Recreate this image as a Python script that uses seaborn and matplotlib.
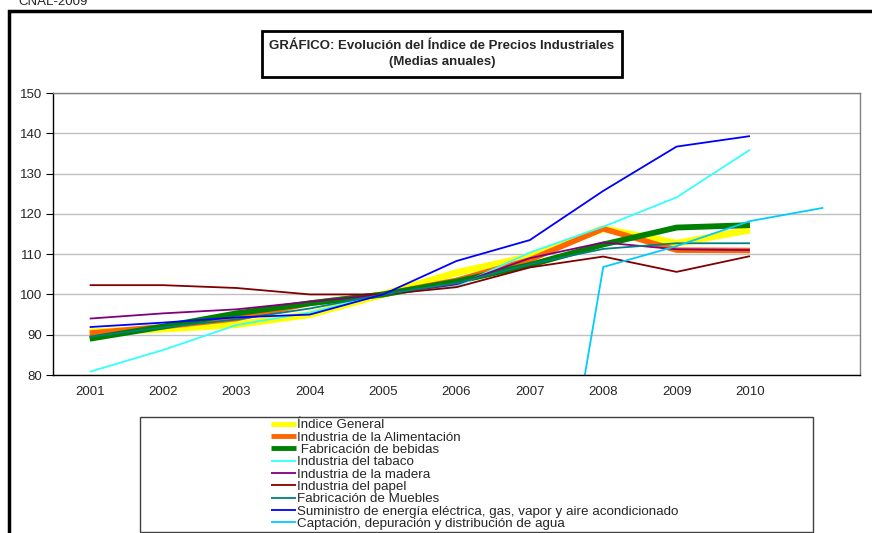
import numpy as np
import pandas as pd
import matplotlib
matplotlib.use("Agg")
import matplotlib.pyplot as plt
from matplotlib.patches import Rectangle
import seaborn as sns

# categories (the last slot has no label in the original)
years = ["2001", "2002", "2003", "2004", "2005", "2006", "2007", "2008", "2009", "2010", ""]

indice_general = [90.7, 91.4, 92.5, 95.0, 100.0, 105.4, 109.4, 116.3, 112.7, 116.0]
alimentacion = [90.4, 92.0, 94.0, 97.8, 100.0, 103.5, 108.6, 116.3, 111.0, 110.9]
bebidas = [89.0, 92.0, 95.3, 97.8, 100.0, 103.2, 107.3, 112.4, 116.6, 117.2]
tabaco = [80.8, 86.2, 92.4, 95.5, 100.0, 102.0, 110.4, 116.8, 124.1, 135.9]
madera = [94.0, 95.3, 96.3, 98.2, 100.0, 102.5, 109.0, 112.9, 111.2, 111.0]
papel = [102.3, 102.3, 101.6, 100.0, 100.0, 101.8, 106.7, 109.4, 105.6, 109.5]
muebles = [89.5, 91.8, 93.8, 96.5, 100.0, 102.8, 107.5, 111.3, 112.7, 112.7]
energia = [91.9, 93.0, 94.3, 95.0, 100.0, 108.3, 113.5, 125.7, 136.7, 139.3]
agua = [0, 0, 0, 0, 0, 0, 0, 106.8, 112.0, 118.2, 121.5]

series = [
    ("Índice General", indice_general, "#FFFF00", 5.0),
    ("Industria de la Alimentación", alimentacion, "#FF6600", 4.0),
    (" Fabricación de bebidas", bebidas, "#008000", 4.2),
    ("Industria del tabaco", tabaco, "#33FFFF", 1.3),
    ("Industria de la madera", madera, "#800080", 1.3),
    ("Industria del papel", papel, "#800000", 1.3),
    ("Fabricación de Muebles", muebles, "#008080", 1.3),
    ("Suministro de energía eléctrica, gas, vapor y aire acondicionado", energia, "#0000FF", 1.3),
    ("Captación, depuración y distribución de agua", agua, "#00CCFF", 1.3),
]

sns.set_style("white")
plt.rcParams["font.family"] = ["Liberation Sans", "DejaVu Sans"]

W, H = 872, 533
fig = plt.figure(figsize=(W / 100, H / 100), dpi=100)


def fx(px):
    return px / W


def fy(py):
    return 1 - py / H


ax = fig.add_axes([fx(53), fy(375), fx(860) - fx(53), fy(93) - fy(375)])

for name, values, color, lw in series:
    df = pd.DataFrame({"pos": np.arange(len(values)) + 0.5, "valor": values})
    sns.lineplot(data=df, x="pos", y="valor", ax=ax, color=color,
                 linewidth=lw, label=name, legend=False,
                 solid_capstyle="butt")

ax.set_xlim(0, len(years))
ax.set_ylim(80, 150)
ax.set_yticks(np.arange(80, 151, 10))
ax.set_xticks(np.arange(len(years) + 1))
ax.set_xticklabels([])
ax.set_xticks(np.arange(len(years)) + 0.5, labels=years, minor=True)
ax.tick_params(axis="x", which="minor", length=0, pad=8, labelsize=9.5)
ax.tick_params(axis="x", which="major", length=5, direction="out", color="black")
ax.tick_params(axis="y", length=5, direction="out", pad=3, labelsize=9.5, color="black",
               left=True)
ax.set_xlabel("")
ax.set_ylabel("")
ax.yaxis.grid(True, color="#c0c0c0", linewidth=1)
ax.set_axisbelow(True)
for side in ["left", "bottom"]:
    ax.spines[side].set_color("black")
    ax.spines[side].set_linewidth(1)
for side in ["top", "right"]:
    ax.spines[side].set_color("#808080")
    ax.spines[side].set_linewidth(1)

# outer frame
fig.patches.append(Rectangle((fx(9), -0.1), 1.2, fy(11) + 0.1, transform=fig.transFigure,
                             fill=False, edgecolor="black", linewidth=2.5))
fig.text(fx(18), fy(5), "CNAL-2009", fontsize=9.5, va="baseline", ha="left")

# title box
fig.patches.append(Rectangle((fx(262), fy(77)), fx(622) - fx(262), fy(31) - fy(77),
                             transform=fig.transFigure, fill=False,
                             edgecolor="black", linewidth=2))
fig.text(fx(442), fy(54), "GRÁFICO: Evolución del Índice de Precios Industriales\n(Medias anuales)",
         ha="center", va="center", fontsize=9.5, fontweight="bold", linespacing=1.35)

# legend box
fig.patches.append(Rectangle((fx(140), fy(532)), fx(813) - fx(140), fy(417) - fy(532),
                             transform=fig.transFigure, fill=False,
                             edgecolor="#404040", linewidth=1))
h, l = ax.get_legend_handles_labels()
leg = fig.legend(h, l, loc="upper left", bbox_to_anchor=(fx(271), fy(419)),
                 frameon=False, fontsize=9.6, labelspacing=0.0, handlelength=1.9,
                 handletextpad=0.05, borderpad=0, borderaxespad=0)
for line in leg.get_lines():
    line.set_linewidth(min(line.get_linewidth(), 3.5))

fig.savefig("out.png", dpi=100)
